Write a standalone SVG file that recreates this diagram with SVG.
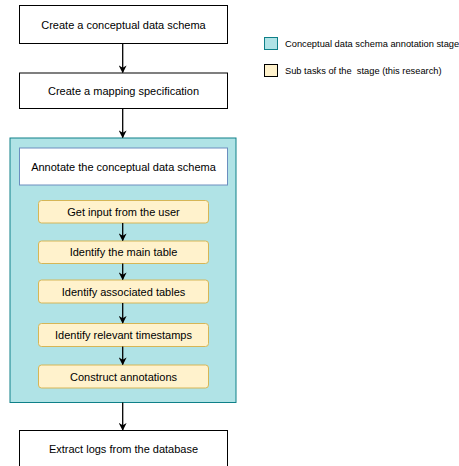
<svg xmlns="http://www.w3.org/2000/svg" width="459" height="466" viewBox="0 0 459 466">
<defs>
<style>
.box{fill:#ffffff;stroke:#000000;stroke-width:1}
.cont{fill:#b0e3e6;stroke:#0e8088;stroke-width:1}
.inner{fill:#ffffff;stroke:#6c8ebf;stroke-width:1}
.sub{fill:#fff2cc;stroke:#d6b656;stroke-width:1}
text{font-family:"Liberation Sans",Arial,sans-serif;font-size:11px;fill:#000000;text-anchor:middle;dominant-baseline:central}
.leg{font-size:9.3px;text-anchor:start;white-space:pre}
.edge{stroke:#000000;stroke-width:1.3;fill:none;marker-end:url(#ah)}
</style>
<marker id="ah" viewBox="0 0 10 10" refX="9" refY="5" markerWidth="6" markerHeight="6" orient="auto" markerUnits="strokeWidth">
<path d="M0,0 L10,5 L0,10 L3,5 Z" fill="#000000"/>
</marker>
</defs>
<rect width="459" height="466" fill="#ffffff"/>
<g id="container">
<rect class="cont" x="10" y="138" width="226" height="264.5"/>
</g>
<g id="n1"><rect class="box" x="19.5" y="5.5" width="208" height="38"/><text x="123.5" y="24.5">Create a conceptual data schema</text></g>
<g id="n2"><rect class="box" x="19.5" y="73" width="208" height="35.5"/><text x="123.5" y="90.5">Create a mapping specification</text></g>
<g id="n3"><rect class="inner" x="19.5" y="148" width="208" height="37"/><text x="123.5" y="166.5">Annotate the conceptual data schema</text></g>
<g id="s1"><rect class="sub" x="38.5" y="200.5" width="170" height="22.5" rx="3"/><text x="123.5" y="211.75">Get input from the user</text></g>
<g id="s2"><rect class="sub" x="38.5" y="241" width="170" height="22.5" rx="3"/><text x="123.5" y="252.25">Identify the main table</text></g>
<g id="s3"><rect class="sub" x="38.5" y="280" width="170" height="23" rx="3"/><text x="123.5" y="291.5">Identify associated tables</text></g>
<g id="s4"><rect class="sub" x="38.5" y="323.5" width="170" height="23" rx="3"/><text x="123.5" y="335">Identify relevant timestamps</text></g>
<g id="s5"><rect class="sub" x="38.5" y="365" width="170" height="23" rx="3"/><text x="123.5" y="376.5">Construct annotations</text></g>
<g id="n4"><rect class="box" x="19.5" y="430.5" width="208" height="40"/><text x="123.5" y="449">Extract logs from the database</text></g>
<g id="connectors">
<line class="edge" x1="122.7" y1="43.5" x2="122.7" y2="72.5"/>
<line class="edge" x1="122.7" y1="108.5" x2="122.7" y2="137.5"/>
<line class="edge" x1="122.7" y1="223" x2="122.7" y2="240.5"/>
<line class="edge" x1="122.7" y1="263.5" x2="122.7" y2="279.5"/>
<line class="edge" x1="122.7" y1="303" x2="122.7" y2="323"/>
<line class="edge" x1="122.7" y1="346.5" x2="122.7" y2="364.5"/>
<line class="edge" x1="122.7" y1="402.5" x2="122.7" y2="430"/>
</g>
<g id="legend">
<rect class="cont" x="264.5" y="37.5" width="13" height="12"/>
<text class="leg" x="285" y="43.5">Conceptual data schema annotation stage</text>
<rect x="264.5" y="64.5" width="13" height="12" fill="#fff2cc" stroke="#000000" stroke-width="1"/>
<text class="leg" x="285" y="70.5" xml:space="preserve">Sub tasks of the  stage (this research)</text>
</g>
</svg>
